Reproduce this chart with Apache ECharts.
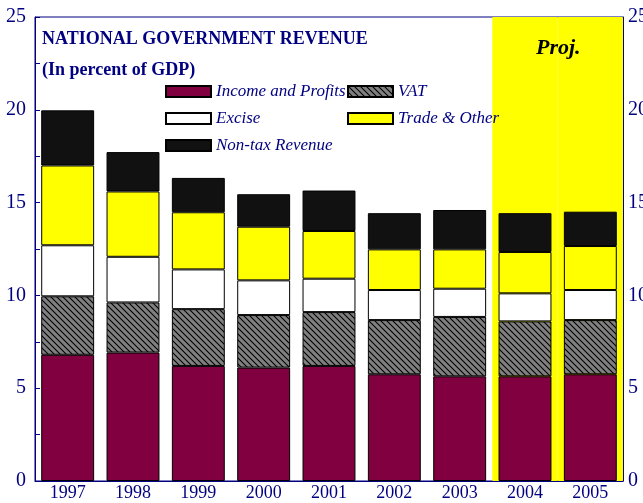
<!DOCTYPE html>
<html>
<head>
<meta charset="utf-8">
<script src="https://cdn.jsdelivr.net/npm/echarts@6/dist/echarts.min.js"></script>
<style>
  html, body { margin: 0; padding: 0; background: #fff; }
  #chart { width: 643px; height: 503px; }
</style>
</head>
<body>
<div id="chart"></div>
<script>
const years = ['1997', '1998', '1999', '2000', '2001', '2002', '2003', '2004', '2005'];
const incomeProfits = [6.8, 6.92, 6.2, 6.11, 6.2, 5.75, 5.64, 5.64, 5.75];
const vat = [3.15, 2.7, 3.06, 2.83, 2.9, 2.92, 3.2, 2.96, 2.92];
const excise = [2.75, 2.46, 2.14, 1.87, 1.8, 1.62, 1.52, 1.51, 1.62];
const tradeOther = [4.3, 3.52, 3.08, 2.89, 2.57, 2.19, 2.12, 2.23, 2.37];
const nonTax = [2.97, 2.12, 1.85, 1.75, 2.18, 1.95, 2.12, 2.09, 1.85];
const projYears = ['2004', '2005'];
const yTicks = [0, 5, 10, 15, 20, 25];

const navy = '#000080';
const serif = "'Liberation Serif', 'Times New Roman', serif";

// grey with black diagonal hatch for VAT
const hatch = document.createElement('canvas');
hatch.width = 6;
hatch.height = 6;
const hctx = hatch.getContext('2d');
hctx.fillStyle = '#808080';
hctx.fillRect(0, 0, 6, 6);
hctx.strokeStyle = '#000';
hctx.lineWidth = 1.1;
hctx.beginPath();
hctx.moveTo(-1, -1); hctx.lineTo(7, 7);
hctx.moveTo(-1, 5); hctx.lineTo(1, 7);
hctx.moveTo(5, -1); hctx.lineTo(7, 1);
hctx.stroke();

const chart = echarts.init(document.getElementById('chart'));

const barStyle = (color) => ({ color: color, borderColor: '#000', borderWidth: 1 });

const stackSeries = (name, data, color) => ({
  name: name,
  type: 'bar',
  stack: 'rev',
  barCategoryGap: '19%',
  data: data,
  itemStyle: barStyle(color),
  emphasis: { disabled: true },
  z: 3
});

const legendText = { color: navy, fontFamily: serif, fontStyle: 'italic', fontSize: 17 };

const option = {
  animation: false,
  title: [
    {
      text: 'NATIONAL GOVERNMENT REVENUE',
      left: 37, top: 25,
      textStyle: { color: navy, fontFamily: serif, fontWeight: 'bold', fontSize: 18 }
    },
    {
      text: '(In percent of GDP)',
      left: 37, top: 56,
      textStyle: { color: navy, fontFamily: serif, fontWeight: 'bold', fontSize: 18 }
    },
    {
      text: 'Proj.',
      left: 531, top: 32,
      textStyle: { color: '#000', fontFamily: serif, fontWeight: 'bold', fontStyle: 'italic', fontSize: 22 }
    }
  ],
  legend: [
    {
      orient: 'vertical',
      left: 160, top: 78,
      itemWidth: 45, itemHeight: 11, itemGap: 10,
      icon: 'rect',
      data: ['Income and Profits', 'Excise', 'Non-tax Revenue'],
      textStyle: legendText,
      selectedMode: false
    },
    {
      orient: 'vertical',
      left: 342, top: 78,
      itemWidth: 45, itemHeight: 11, itemGap: 10,
      icon: 'rect',
      data: ['VAT', 'Trade & Other'],
      textStyle: legendText,
      selectedMode: false
    }
  ],
  grid: {
    left: 35, right: 20, top: 17, bottom: 22,
    outerBoundsMode: 'none',
    containLabel: false,
    show: true, borderColor: navy, borderWidth: 1, backgroundColor: 'transparent'
  },
  xAxis: [
    {
      type: 'category',
      data: years,
      axisLine: { lineStyle: { color: navy, width: 1 } },
      axisTick: { inside: true, length: 5, lineStyle: { color: navy } },
      axisLabel: { color: navy, fontFamily: serif, fontSize: 18, margin: 3 }
    },
    {
      type: 'category',
      data: years,
      show: false
    }
  ],
  yAxis: [
    {
      type: 'value',
      min: 0, max: 25, interval: 2.5,
      splitLine: { show: false },
      axisLine: { show: true, lineStyle: { color: navy } },
      axisTick: { show: true, inside: true, length: 5, lineStyle: { color: navy } },
      axisLabel: {
        color: navy, fontFamily: serif, fontSize: 20, margin: 9,
        formatter: (v) => (yTicks.includes(v) ? String(v) : '')
      }
    },
    {
      type: 'value',
      position: 'right',
      min: 0, max: 25, interval: 2.5,
      splitLine: { show: false },
      axisLine: { show: true, lineStyle: { color: navy } },
      axisTick: { show: true, inside: true, length: 5, lineStyle: { color: navy } },
      axisLabel: {
        color: navy, fontFamily: serif, fontSize: 20, margin: 5,
        formatter: (v) => (yTicks.includes(v) ? String(v) : '')
      }
    }
  ],
  series: [
    {
      name: 'proj',
      type: 'bar',
      xAxisIndex: 1,
      barWidth: '100%',
      data: years.map((y) => (projYears.includes(y) ? 25 : '-')),
      itemStyle: { color: '#ffff00', borderColor: '#ffff00', borderWidth: 1 },
      emphasis: { disabled: true },
      silent: true,
      z: 1
    },
    stackSeries('Income and Profits', incomeProfits, '#800040'),
    stackSeries('VAT', vat, { image: hatch, repeat: 'repeat' }),
    stackSeries('Excise', excise, '#ffffff'),
    stackSeries('Trade & Other', tradeOther, '#ffff00'),
    stackSeries('Non-tax Revenue', nonTax, '#111111')
  ]
};

chart.setOption(option);
</script>
</body>
</html>
